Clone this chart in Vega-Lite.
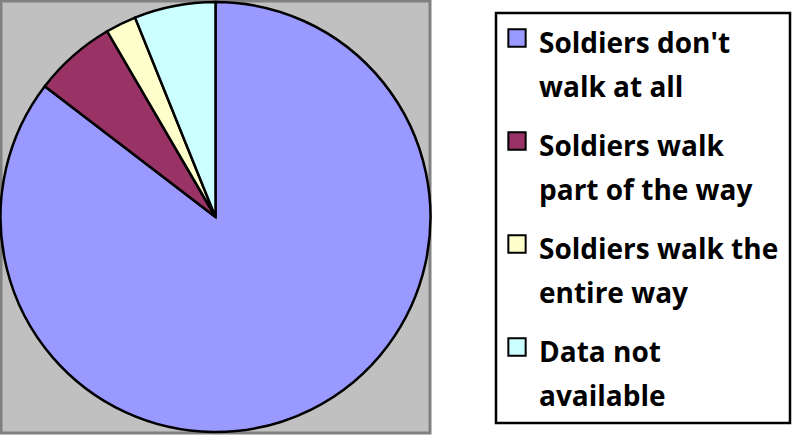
{
  "$schema": "https://vega.github.io/schema/vega-lite/v6.json",
  "width": 429,
  "height": 432,
  "autosize": "none",
  "padding": {"left": 1, "top": 1, "right": 362, "bottom": 2},
  "background": "white",
  "view": {"fill": "#C0C0C0", "stroke": "#808080", "strokeWidth": 3},
  "data": {
    "values": [
      {"idx": 1, "category": "Soldiers don't walk at all", "pct": 85.4},
      {"idx": 2, "category": "Soldiers walk part of the way", "pct": 6.2},
      {"idx": 3, "category": "Soldiers walk the entire way", "pct": 2.3},
      {"idx": 4, "category": "Data not available", "pct": 6.1}
    ]
  },
  "mark": {"type": "arc", "radius": 215, "stroke": "black", "strokeWidth": 2.5},
  "encoding": {
    "theta": {"field": "pct", "type": "quantitative", "stack": true},
    "order": {"field": "idx", "type": "quantitative"},
    "color": {
      "field": "category",
      "type": "nominal",
      "scale": {
        "domain": ["Soldiers don't walk at all", "Soldiers walk part of the way", "Soldiers walk the entire way", "Data not available"],
        "range": ["#9999FF", "#993366", "#FFFFCC", "#CCFFFF"]
      },
      "legend": {
        "title": null,
        "orient": "none",
        "legendX": 495,
        "legendY": 12,
        "padding": 11,
        "strokeColor": "black",
        "fillColor": "white",
        "symbolType": "square",
        "symbolSize": 300,
        "symbolOffset": -4,
        "symbolStrokeColor": "black",
        "symbolStrokeWidth": 2,
        "labelFont": "Open Sans",
        "labelFontWeight": "bold",
        "labelFontSize": 28,
        "labelColor": "black",
        "labelBaseline": "top",
        "labelLimit": 400,
        "labelOffset": 8,
        "rowPadding": 24,
        "labelExpr": "datum.label == 'Soldiers walk the entire way' ? ['Soldiers walk the', 'entire way'] : [join(slice(split(datum.label, ' '), 0, 2), ' '), join(slice(split(datum.label, ' '), 2), ' ')]",
        "encode": {
          "legend": {"update": {"strokeWidth": {"value": 2.5}}},
          "labels": {"update": {"lineHeight": {"value": 44}, "dy": {"value": -7}}}
        }
      }
    }
  }
}
